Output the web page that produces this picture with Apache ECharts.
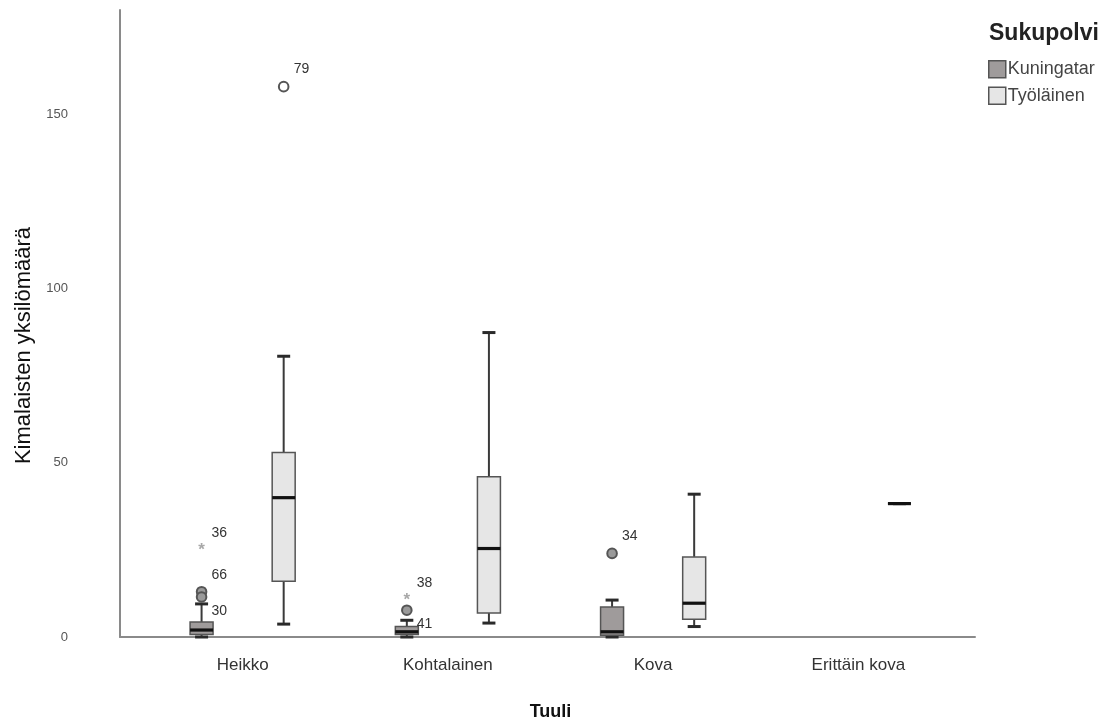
<!DOCTYPE html>
<html>
<head>
<meta charset="utf-8">
<script src="https://cdn.jsdelivr.net/npm/echarts@6/dist/echarts.min.js"></script>
<style>html,body{margin:0;padding:0;background:#fff;}#c{width:1120px;height:727px;}</style>
</head>
<body>
<div id="c"></div>
<script>
// ---- data ----
const categories = ['Heikko', 'Kohtalainen', 'Kova', 'Erittäin kova'];
const seriesNames = ['Kuningatar', 'Työläinen'];
// [min, Q1, median, Q3, max] per category (null = no data)
const kuningatarStats = [
  [0, 0.7, 2, 4.3, 9.5],
  [0, 0.7, 1.5, 3, 4.8],
  [0, 0.5, 1.5, 8.6, 10.6],
  null
];
const tyolainenStats = [
  [3.7, 16, 40, 53, 80.6],
  [4, 6.9, 25.4, 46, 87.4],
  [3, 5.1, 9.7, 23, 41],
  [38.3, 38.3, 38.3, 38.3, 38.3]
];
// outliers: category index, value, case id, kind
const kuningatarOutlierCat = [0, 0, 0, 1, 1, 2];
const kuningatarOutlierVal = [13, 11.5, 25, 7.7, 10.5, 24];
const kuningatarOutlierId = ['66', '30', '36', '41', '38', '34'];
const kuningatarOutlierKind = ['circle', 'circle', 'star', 'circle', 'star', 'circle'];
const tyolainenOutlierCat = [0];
const tyolainenOutlierVal = [158];
const tyolainenOutlierId = ['79'];
const tyolainenOutlierKind = ['circle'];
const yTicks = [0, 50, 100, 150];

// ---- style ----
const fillK = '#9f9b9b';
const fillT = '#e6e6e6';
const labelBelowIds = ['30', '41'];

function boxData(stats) {
  const out = [];
  stats.forEach((s, i) => { if (s) out.push([i].concat(s)); });
  return out;
}
function outlierData(cats, vals, ids, kinds) {
  return cats.map((c, i) => ({ value: [c, vals[i]], id: ids[i], kind: kinds[i] }));
}

function boxRender(offsetFrac, fill) {
  return function (params, api) {
    const cat = api.value(0);
    const bw = api.size([1, 0])[0];
    const cx = api.coord([cat, 0])[0] + offsetFrac * bw;
    const w = bw * 0.112;
    const y = i => api.coord([cat, api.value(i)])[1];
    const yMin = y(1), yQ1 = y(2), yMed = y(3), yQ3 = y(4), yMax = y(5);
    const cap = 6.5;
    const wl = { stroke: '#3a3a3a', lineWidth: 2 };
    const cl = { stroke: '#2a2a2a', lineWidth: 3 };
    return {
      type: 'group',
      children: [
        { type: 'line', shape: { x1: cx, y1: yQ3, x2: cx, y2: yMax }, style: wl },
        { type: 'line', shape: { x1: cx, y1: yQ1, x2: cx, y2: yMin }, style: wl },
        { type: 'line', shape: { x1: cx - cap, y1: yMax, x2: cx + cap, y2: yMax }, style: cl },
        { type: 'line', shape: { x1: cx - cap, y1: yMin, x2: cx + cap, y2: yMin }, style: cl },
        { type: 'rect', shape: { x: cx - w / 2, y: yQ3, width: w, height: yQ1 - yQ3 },
          style: { fill: fill, stroke: '#555', lineWidth: 1.5 } },
        { type: 'line', shape: { x1: cx - w / 2, y1: yMed, x2: cx + w / 2, y2: yMed },
          style: { stroke: '#111', lineWidth: 3.2 } }
      ]
    };
  };
}

function outlierRender(offsetFrac, circleFill, items) {
  return function (params, api) {
    const it = items[params.dataIndex];
    const cat = api.value(0);
    const bw = api.size([1, 0])[0];
    const p = api.coord([cat, api.value(1)]);
    const cx = p[0] + offsetFrac * bw;
    const cy = p[1];
    const below = labelBelowIds.indexOf(it.id) >= 0;
    const children = [];
    if (it.kind === 'star') {
      children.push({ type: 'text', x: cx, y: cy,
        style: { text: '*', fill: '#a8a8a8', font: 'bold 17px "Liberation Sans"', align: 'center', verticalAlign: 'middle' } });
    } else {
      children.push({ type: 'circle', shape: { cx: cx, cy: cy, r: 4.8 },
        style: { fill: circleFill, stroke: '#555', lineWidth: 2 } });
    }
    children.push({ type: 'text', x: cx + 10, y: cy + (below ? 14 : -17),
      style: { text: it.id, fill: '#333', font: '14px "Liberation Sans"', align: 'left', verticalAlign: 'middle' } });
    return { type: 'group', children: children };
  };
}

const kOut = outlierData(kuningatarOutlierCat, kuningatarOutlierVal, kuningatarOutlierId, kuningatarOutlierKind);
const tOut = outlierData(tyolainenOutlierCat, tyolainenOutlierVal, tyolainenOutlierId, tyolainenOutlierKind);

const chart = echarts.init(document.getElementById('c'), null, { renderer: 'canvas' });
const option = {
  animation: false,
  backgroundColor: '#fff',
  textStyle: { fontFamily: 'Liberation Sans' },
  title: {
    text: 'Sukupolvi', left: 989, top: 22, padding: 0,
    textStyle: { fontFamily: 'Liberation Sans', fontWeight: 'bold', fontSize: 23, color: '#222' }
  },
  legend: {
    orient: 'vertical', left: 988, top: 60, padding: 0, icon: 'rect', itemWidth: 17, itemHeight: 17, itemGap: 8,
    textStyle: { fontFamily: 'Liberation Sans', fontSize: 18, color: '#444', padding: [0, 0, 0, -3] },
    data: [
      { name: seriesNames[0], itemStyle: { color: fillK, borderColor: '#555', borderWidth: 1.5 } },
      { name: seriesNames[1], itemStyle: { color: fillT, borderColor: '#555', borderWidth: 1.5 } }
    ]
  },
  grid: [
    { left: 120, right: 145, top: 10, bottom: 90 },
    { left: 140, right: 159, top: 10, bottom: 90 }
  ],
  xAxis: [
    { gridIndex: 0, type: 'value', min: 0, max: 1,
      axisLine: { show: true, lineStyle: { color: '#8a8a8a', width: 2 } },
      axisTick: { show: false }, axisLabel: { show: false }, splitLine: { show: false } },
    { gridIndex: 1, type: 'category', data: categories,
      axisLine: { show: false }, axisTick: { show: false }, splitLine: { show: false },
      axisLabel: { margin: 20, fontSize: 17, color: '#333', fontFamily: 'Liberation Sans' },
      name: 'Tuuli', nameLocation: 'middle', nameGap: 66,
      nameTextStyle: { fontSize: 18, fontWeight: 'bold', color: '#111', fontFamily: 'Liberation Sans' } }
  ],
  yAxis: [
    { gridIndex: 0, type: 'value', min: 0, max: 180, interval: 50,
      axisLine: { show: true, lineStyle: { color: '#8a8a8a', width: 2 } },
      axisTick: { show: false }, splitLine: { show: false },
      axisLabel: { margin: 52, fontSize: 13, color: '#555', fontFamily: 'Liberation Sans', showMaxLabel: false,
        formatter: v => (yTicks.indexOf(v) >= 0 ? String(v) : '') },
      name: 'Kimalaisten yksilömäärä', nameLocation: 'middle', nameGap: 84, nameRotate: 90,
      nameTextStyle: { fontSize: 22, color: '#111', fontFamily: 'Liberation Sans', padding: [0, 44, 0, 0] } },
    { gridIndex: 1, type: 'value', min: 0, max: 180, show: false }
  ],
  series: [
    { name: seriesNames[0], type: 'custom', xAxisIndex: 1, yAxisIndex: 1,
      itemStyle: { color: fillK }, renderItem: boxRender(-0.2, fillK),
      encode: { x: 0, y: [1, 2, 3, 4, 5] }, data: boxData(kuningatarStats) },
    { name: seriesNames[1], type: 'custom', xAxisIndex: 1, yAxisIndex: 1,
      itemStyle: { color: fillT }, renderItem: boxRender(0.2, fillT),
      encode: { x: 0, y: [1, 2, 3, 4, 5] }, data: boxData(tyolainenStats) },
    { name: 'Kuningatar poikkeavat', type: 'custom', xAxisIndex: 1, yAxisIndex: 1,
      renderItem: outlierRender(-0.2, '#9a9a9a', kOut),
      encode: { x: 0, y: 1 }, data: kOut.map(o => o.value) },
    { name: 'Työläinen poikkeavat', type: 'custom', xAxisIndex: 1, yAxisIndex: 1,
      renderItem: outlierRender(0.2, '#ffffff', tOut),
      encode: { x: 0, y: 1 }, data: tOut.map(o => o.value) }
  ]
};
chart.setOption(option);
</script>
</body>
</html>
